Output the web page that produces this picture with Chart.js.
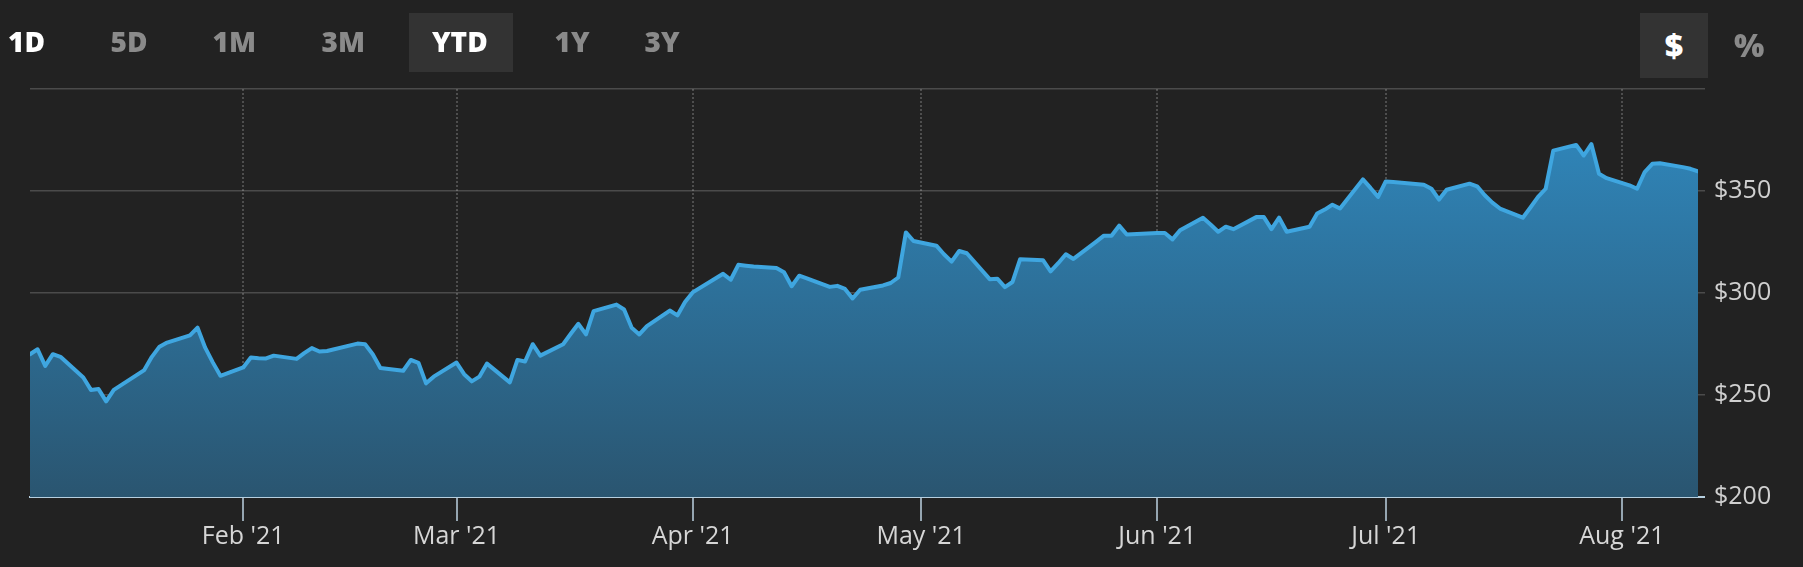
<!DOCTYPE html>
<html><head><meta charset="utf-8">
<script src="https://cdn.jsdelivr.net/npm/chart.js@4.4.0/dist/chart.umd.min.js"></script>
<style>
html,body{margin:0;padding:0;background:#222222;width:1803px;height:567px;overflow:hidden;font-family:'Open Sans',sans-serif;}
#c{position:absolute;left:0;top:0;}
.box{position:absolute;background:#333333;}
.btn{position:absolute;font-weight:800;font-size:28px;line-height:28px;top:27px;color:#8a8a8a;white-space:nowrap;}
.big{position:absolute;font-weight:800;font-size:32px;line-height:32px;top:28.6px;white-space:nowrap;}
</style></head>
<body>
<canvas id="c" width="1803" height="567"></canvas>
<div class="box" style="left:409px;top:13px;width:104px;height:59px"></div>
<div class="box" style="left:1640px;top:13px;width:68px;height:65px"></div>
<span class="btn" style="left:8px;color:#ffffff">1D</span>
<span class="btn" style="left:110.5px">5D</span>
<span class="btn" style="left:212.5px">1M</span>
<span class="btn" style="left:321.5px">3M</span>
<span class="btn" style="left:432px;color:#ffffff">YTD</span>
<span class="btn" style="left:554.5px">1Y</span>
<span class="btn" style="left:644.5px">3Y</span>
<div class="big" style="left:1640px;width:68px;text-align:center;color:#ffffff">$</div>
<span class="big" style="left:1734px;color:#8a8a8a">%</span>
<script>
const dates = [
 '2021-01-04','2021-01-05','2021-01-06','2021-01-07','2021-01-08',
 '2021-01-11','2021-01-12','2021-01-13','2021-01-14','2021-01-15',
 '2021-01-19','2021-01-20','2021-01-21','2021-01-22',
 '2021-01-25','2021-01-26','2021-01-27','2021-01-28','2021-01-29',
 '2021-02-01','2021-02-02','2021-02-03','2021-02-04','2021-02-05',
 '2021-02-08','2021-02-09','2021-02-10','2021-02-11','2021-02-12',
 '2021-02-16','2021-02-17','2021-02-18','2021-02-19',
 '2021-02-22','2021-02-23','2021-02-24','2021-02-25','2021-02-26',
 '2021-03-01','2021-03-02','2021-03-03','2021-03-04','2021-03-05',
 '2021-03-08','2021-03-09','2021-03-10','2021-03-11','2021-03-12',
 '2021-03-15','2021-03-16','2021-03-17','2021-03-18','2021-03-19',
 '2021-03-22','2021-03-23','2021-03-24','2021-03-25','2021-03-26',
 '2021-03-29','2021-03-30','2021-03-31','2021-04-01',
 '2021-04-05','2021-04-06','2021-04-07','2021-04-08','2021-04-09',
 '2021-04-12','2021-04-13','2021-04-14','2021-04-15','2021-04-16',
 '2021-04-19','2021-04-20','2021-04-21','2021-04-22','2021-04-23',
 '2021-04-26','2021-04-27','2021-04-28','2021-04-29','2021-04-30',
 '2021-05-03','2021-05-04','2021-05-05','2021-05-06','2021-05-07',
 '2021-05-10','2021-05-11','2021-05-12','2021-05-13','2021-05-14',
 '2021-05-17','2021-05-18','2021-05-19','2021-05-20','2021-05-21',
 '2021-05-24','2021-05-25','2021-05-26','2021-05-27','2021-05-28',
 '2021-06-01','2021-06-02','2021-06-03','2021-06-04',
 '2021-06-07','2021-06-08','2021-06-09','2021-06-10','2021-06-11',
 '2021-06-14','2021-06-15','2021-06-16','2021-06-17','2021-06-18',
 '2021-06-21','2021-06-22','2021-06-23','2021-06-24','2021-06-25',
 '2021-06-28','2021-06-29','2021-06-30','2021-07-01','2021-07-02',
 '2021-07-06','2021-07-07','2021-07-08','2021-07-09',
 '2021-07-12','2021-07-13','2021-07-14','2021-07-15','2021-07-16',
 '2021-07-19','2021-07-20','2021-07-21','2021-07-22','2021-07-23',
 '2021-07-26','2021-07-27','2021-07-28','2021-07-29','2021-07-30',
 '2021-08-02','2021-08-03','2021-08-04','2021-08-05','2021-08-06',
 '2021-08-09','2021-08-10','2021-08-11'
];
const prices = [
 270.0,272.4,264.3,270.0,268.7,
 258.6,252.5,252.9,246.9,252.5,
 262.2,268.7,273.7,275.7,
 279.2,283.0,273.2,266.0,259.4,
 263.5,268.4,268.0,267.9,269.3,
 267.7,270.5,273.0,271.3,271.6,
 275.2,274.9,270.0,263.2,
 261.9,267.2,265.8,255.7,259.0,
 265.9,260.2,256.7,259.0,265.4,
 256.2,267.2,266.4,274.9,269.3,
 274.9,280.0,284.9,279.7,291.1,
 294.3,291.9,283.0,279.7,283.8,
 291.4,289.0,295.6,300.3,
 309.4,306.5,313.8,313.4,313.0,
 312.2,310.2,303.3,308.5,307.2,
 303.0,303.5,302.0,297.3,301.6,
 303.7,304.9,307.6,329.7,325.5,
 323.2,319.0,315.4,320.6,319.5,
 306.8,307.0,302.9,305.4,316.6,
 316.1,310.6,314.6,319.0,316.7,
 325.2,328.1,328.1,333.0,328.7,
 329.4,329.4,326.3,330.8,
 336.9,333.6,330.0,332.5,331.3,
 337.2,337.2,331.3,336.9,330.0,
 332.5,339.0,340.9,343.3,341.4,
 355.7,351.5,347.1,354.7,354.4,
 353.1,351.1,345.8,350.6,
 353.6,352.3,347.9,344.3,341.4,
 336.9,341.9,347.1,351.1,369.8,
 372.6,367.4,373.0,358.4,356.3,
 352.8,351.1,359.3,363.3,363.6,
 361.7,360.9,359.6
];
const monthTickDates = ['2021-02-01','2021-03-01','2021-04-01','2021-05-01','2021-06-01','2021-07-01','2021-08-01'];
const monthTickLabels = ["Feb '21","Mar '21","Apr '21","May '21","Jun '21","Jul '21","Aug '21"];
const yTickValues = [200,250,300,350,400];
const yTickLabels = ['$200','$250','$300','$350',''];

function dayNum(s){
  const p = s.split('-').map(Number);
  return (Date.UTC(p[0],p[1]-1,p[2]) - Date.UTC(2021,0,1)) / 86400000 + 1;
}

const points = dates.map((d,i)=>({x: dayNum(d), y: prices[i]}));

Chart.defaults.font.family = "'Open Sans', 'Noto Sans', sans-serif";

new Chart(document.getElementById('c'), {
  type: 'line',
  data: { datasets: [{
    data: points,
    borderColor: '#3fa6e0',
    borderWidth: 4,
    borderJoinStyle: 'round',
    borderCapStyle: 'round',
    pointRadius: 0,
    tension: 0,
    fill: 'start',
    backgroundColor: (ctx) => {
      const a = ctx.chart.chartArea;
      if (!a) return 'rgb(45,110,150)';
      const g = ctx.chart.ctx.createLinearGradient(0, a.top, 0, a.bottom);
      g.addColorStop(0, 'rgb(48,139,194)');
      g.addColorStop(1, 'rgb(42,85,112)');
      return g;
    }
  }]},
  options: {
    responsive: false,
    animation: false,
    devicePixelRatio: 1,
    events: [],
    layout: { padding: { left: 30, top: 89, right: 0, bottom: 0 } },
    plugins: { legend: { display: false }, tooltip: { enabled: false } },
    scales: {
      x: {
        type: 'linear',
        min: dayNum(dates[0]),
        max: dayNum(dates[dates.length-1]),
        z: 1,
        afterBuildTicks: (s) => { s.ticks = monthTickDates.map(d => ({ value: dayNum(d) })); },
        afterFit: (s) => { s.height = 70; },
        ticks: {
          autoSkip: false, maxRotation: 0,
          callback: (v, i) => monthTickLabels[i],
          color: '#d6d6d6',
          font: { size: 25 },
          padding: 1
        },
        grid: {
          color: 'rgba(255,255,255,0.2)',
          lineWidth: 2,
          tickLength: 24,
          tickColor: '#bcd2e2',
          tickWidth: 1.5,
          tickBorderDash: []
        },
        border: { display: true, color: '#b6cfe0', width: 2, dash: [2, 2] }
      },
      y: {
        position: 'right',
        min: 200, max: 400,
        z: 1,
        afterBuildTicks: (s) => { s.ticks = yTickValues.map(v => ({ value: v })); },
        afterFit: (s) => { s.width = 105; },
        ticks: {
          callback: (v, i) => yTickLabels[i],
          color: '#d0d0d0',
          font: { size: 25 },
          padding: 9
        },
        grid: {
          color: (c) => (c.tick && c.tick.value === 200) ? '#b6cfe0' : 'rgba(255,255,255,0.19)',
          lineWidth: (c) => (c.tick && c.tick.value === 200) ? 2 : 1.5,
          tickLength: 7
        },
        border: { display: false }
      }
    }
  }
});
</script>
</body></html>
